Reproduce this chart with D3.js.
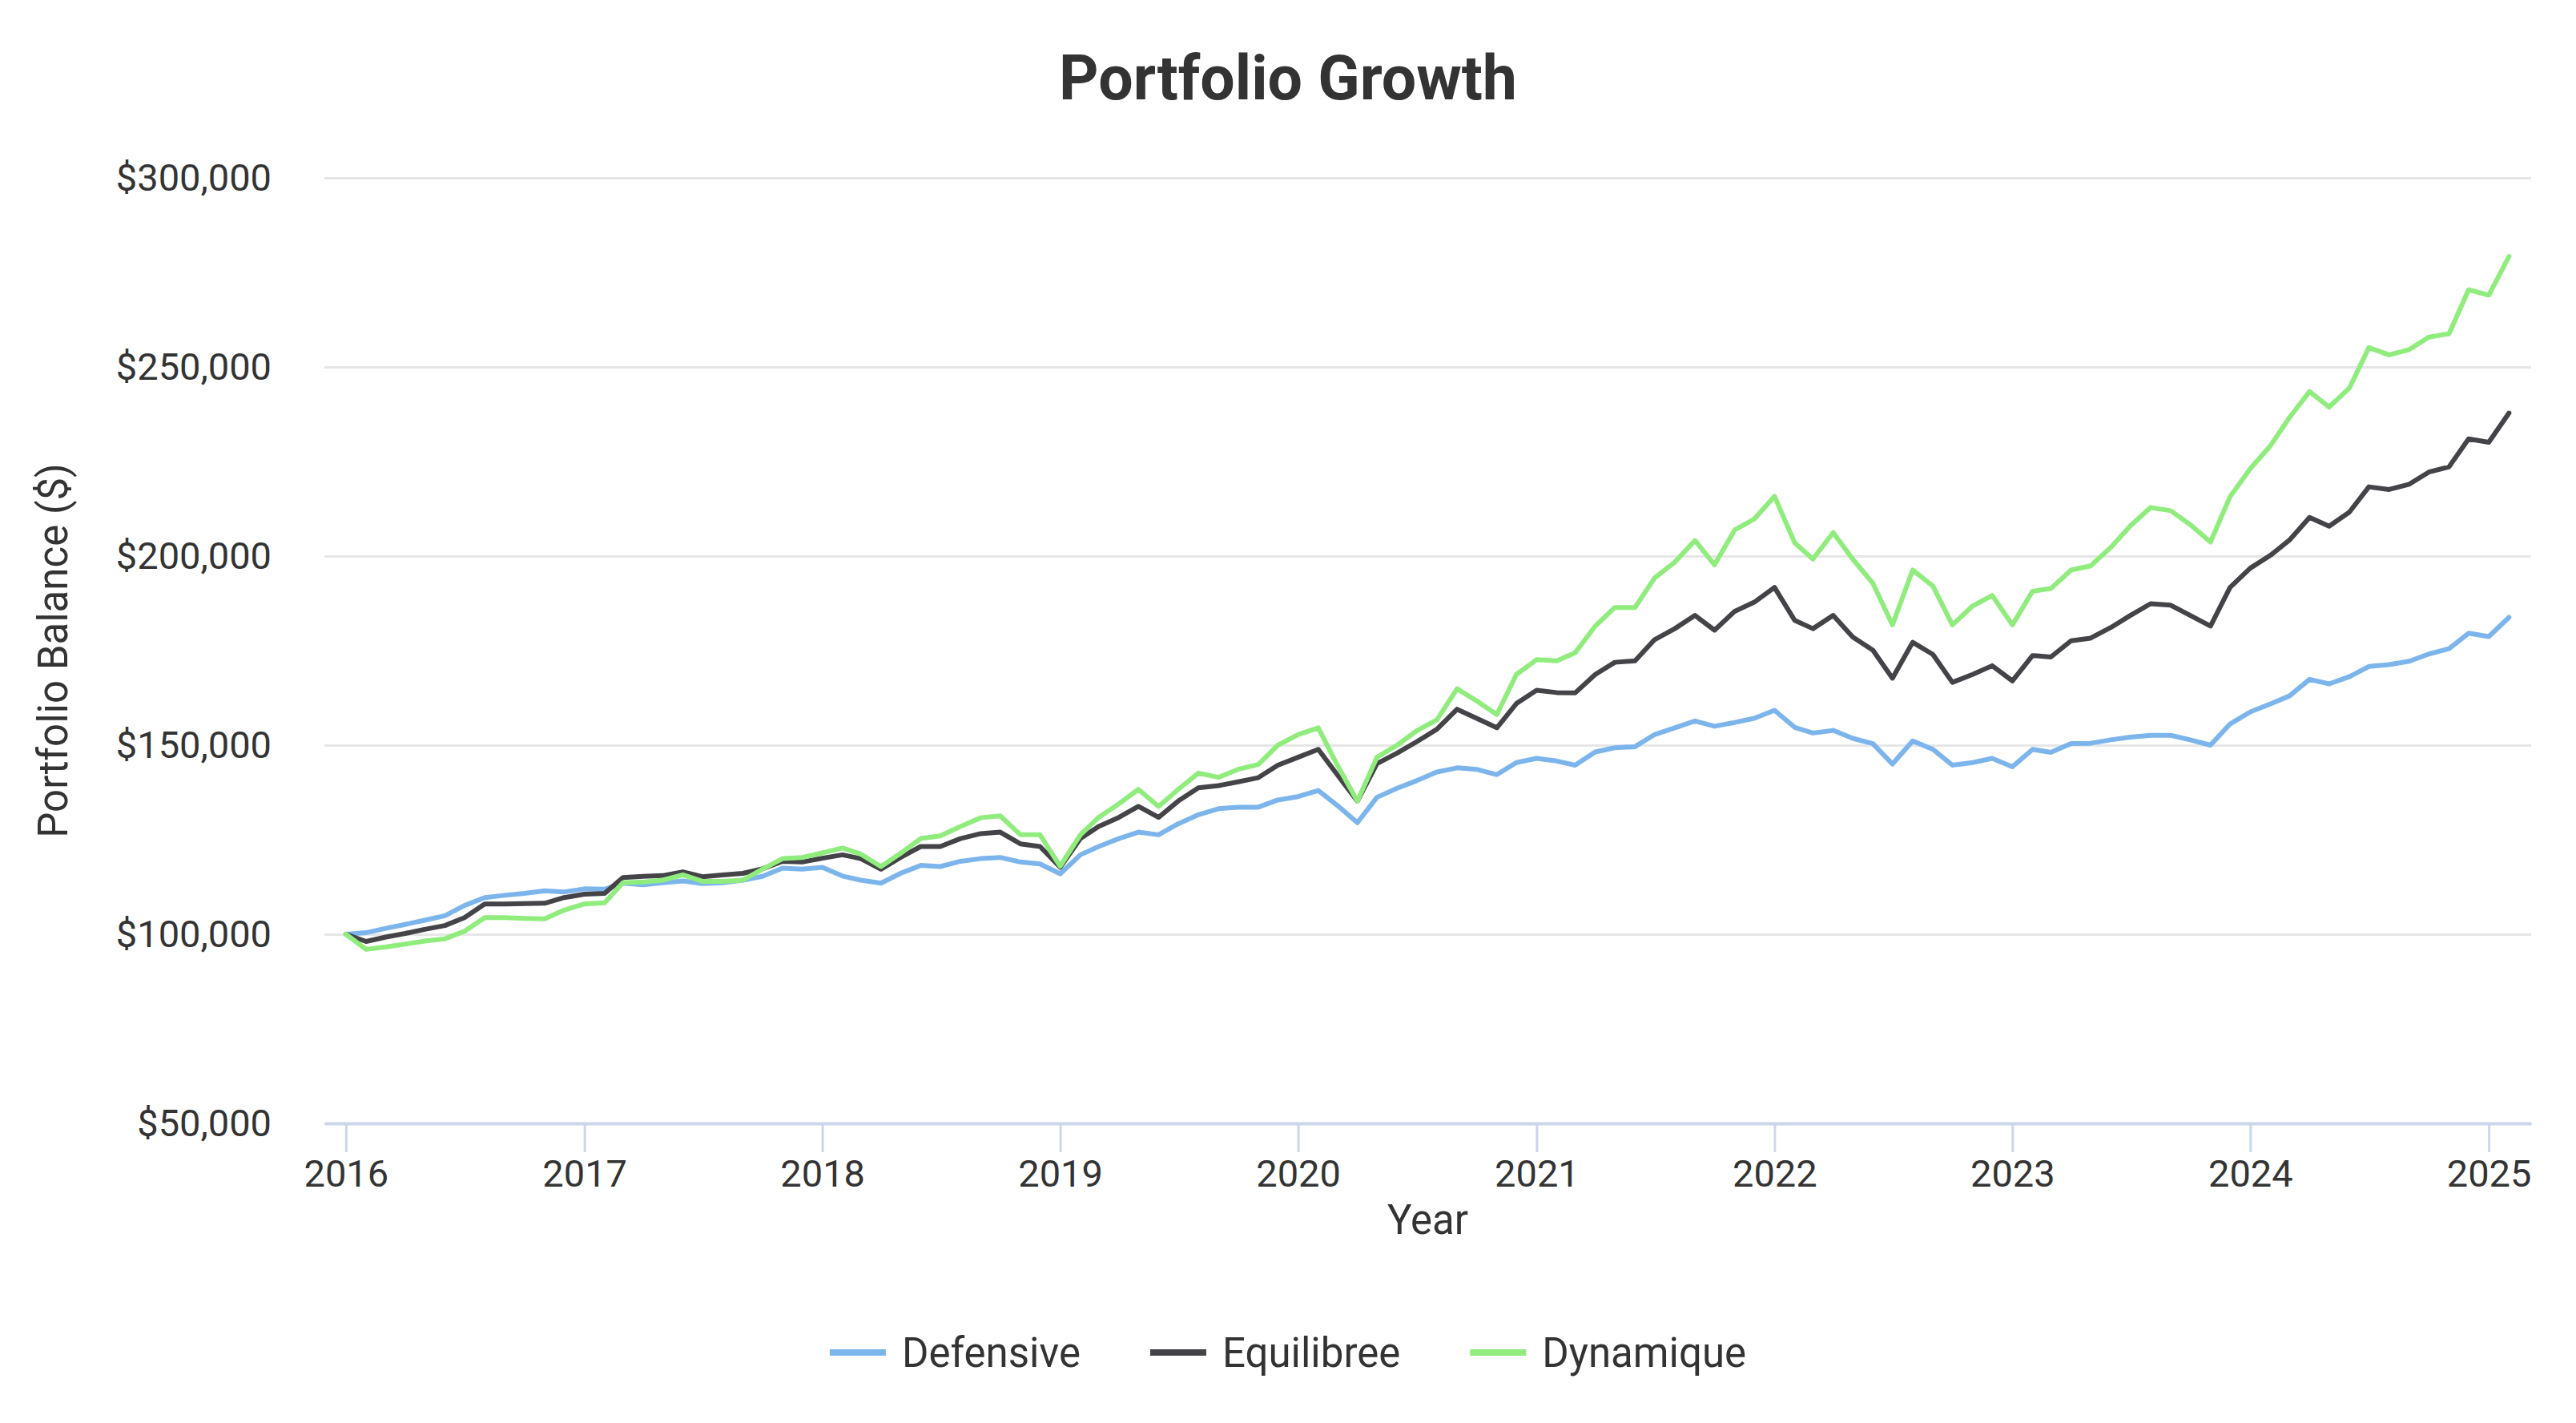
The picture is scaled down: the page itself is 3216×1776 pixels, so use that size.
<!DOCTYPE html>
<html>
<head>
<meta charset="utf-8">
<script src="https://cdn.jsdelivr.net/npm/d3@7"></script>
<style>
  body { margin: 0; background: #fff; }
  svg { display: block; font-family: Roboto, "Noto Sans", sans-serif; }
</style>
</head>
<body>
<svg id="chart"></svg>
<script>
// monthly balances, in thousands of $, starting January 2016
const defensive = [
  100.0, 100.4, 101.5, 102.6, 103.7, 104.9, 107.6, 109.7, 110.3, 110.8, 111.5, 111.2,
  112.0, 111.9, 113.5, 113.1, 113.6, 114.1, 113.4, 113.6, 114.3, 115.3, 117.5, 117.2,
  117.7, 115.4, 114.3, 113.5, 116.1, 118.2, 117.9, 119.3, 120.0, 120.3, 119.1, 118.6,
  116.0, 121.0, 123.2, 125.3, 127.0, 126.3, 129.2, 131.6, 133.2, 133.6, 133.6, 135.5,
  136.4, 138.0, 134.1, 129.5, 136.2, 138.6, 140.6, 142.9, 144.0, 143.6, 142.2, 145.4,
  146.5, 145.8, 144.7, 148.2, 149.3, 149.6, 152.8, 154.6, 156.4, 155.0, 156.0, 157.1,
  159.2, 154.7, 153.2, 153.9, 151.8, 150.4, 145.0, 151.1, 148.9, 144.7, 145.4, 146.5,
  144.3, 148.9, 148.1, 150.4, 150.5, 151.4, 152.1, 152.6, 152.6, 151.4, 150.0, 155.6,
  158.8, 160.9, 163.0, 167.4, 166.2, 168.1, 170.8, 171.3, 172.2, 174.1, 175.5, 179.6,
  178.7, 183.8
];
const equilibree = [
  100.0, 98.1, 99.2, 100.2, 101.3, 102.3, 104.4, 108.0, 108.0, 108.1, 108.2, 109.7,
  110.6, 110.8, 115.0, 115.3, 115.5, 116.5, 115.2, 115.7, 116.1, 117.3, 119.3, 119.1,
  120.1, 121.0, 120.0, 117.2, 120.3, 123.2, 123.2, 125.3, 126.6, 127.0, 123.9, 123.2,
  117.7, 125.3, 128.5, 130.9, 133.8, 130.9, 135.2, 138.7, 139.3, 140.3, 141.4, 144.7,
  146.8, 148.9, 142.2, 135.2, 145.1, 147.9, 150.9, 154.2, 159.5, 157.1, 154.6, 161.0,
  164.5, 163.9, 163.8, 168.7, 171.9, 172.3, 177.9, 180.8, 184.3, 180.4, 185.4, 187.8,
  191.7, 183.0, 180.8, 184.3, 178.6, 175.1, 167.7, 177.2, 174.0, 166.6, 168.7, 171.0,
  167.0, 173.7, 173.3, 177.6, 178.3, 181.1, 184.3, 187.4, 187.0, 184.3, 181.5, 191.7,
  196.8, 200.2, 204.2, 210.2, 207.9, 211.6, 218.3, 217.6, 219.0, 222.2, 223.6, 231.0,
  230.1, 237.8
];
const dynamique = [
  100.0, 96.0, 96.6, 97.4, 98.2, 98.8, 100.8, 104.4, 104.4, 104.2, 104.1, 106.4,
  108.0, 108.3, 113.6, 113.8, 114.3, 115.7, 114.0, 114.0, 114.3, 117.2, 120.0, 120.3,
  121.5, 122.8, 121.2, 117.9, 121.4, 125.3, 126.0, 128.5, 130.8, 131.3, 126.3, 126.3,
  118.0, 126.3, 130.9, 134.5, 138.3, 133.8, 138.3, 142.6, 141.5, 143.6, 144.9, 150.0,
  152.8, 154.6, 144.8, 135.2, 146.8, 150.0, 153.8, 156.7, 164.9, 161.7, 158.1, 168.7,
  172.6, 172.3, 174.4, 181.5, 186.4, 186.4, 194.2, 198.4, 204.1, 197.7, 206.9, 209.8,
  215.8, 203.5, 199.2, 206.2, 199.2, 192.8, 181.8, 196.3, 192.1, 181.8, 186.8, 189.6,
  181.8, 190.7, 191.4, 196.3, 197.4, 202.3, 208.0, 212.8, 212.0, 208.3, 203.7, 215.7,
  223.1, 229.2, 236.6, 243.5, 239.4, 244.4, 255.1, 253.2, 254.6, 257.9, 258.8, 270.4,
  269.0, 279.2
];
const seriesNames = ["Defensive", "Equilibree", "Dynamique"];
const seriesColors = ["#7cb5ec", "#434348", "#90ed7d"];
const yTicks = [50000, 100000, 150000, 200000, 250000, 300000];
const yearTicks = [2016, 2017, 2018, 2019, 2020, 2021, 2022, 2023, 2024, 2025];

const W = 3216, H = 1776;
const margin = { top: 222, right: 56, bottom: 374, left: 405 };
const innerW = W - margin.left - margin.right;
const innerH = H - margin.top - margin.bottom;

const svg = d3.select("#chart").attr("width", W).attr("height", H);

const months = d3.range(defensive.length).map(i => new Date(2016, i, 1));
const series = [defensive, equilibree, dynamique].map((vals, k) => ({
  name: seriesNames[k],
  color: seriesColors[k],
  values: vals.map((v, i) => ({ date: months[i], value: v * 1000 }))
}));

const x = d3.scaleTime()
  .domain([new Date(2015, 10, 29), new Date(2025, 2, 7)])
  .range([0, innerW]);
const y = d3.scaleLinear().domain([50000, 300000]).range([innerH, 0]);

const g = svg.append("g").attr("transform", `translate(${margin.left},${margin.top})`);

// title
svg.append("text")
  .attr("x", W / 2).attr("y", 124)
  .attr("text-anchor", "middle")
  .attr("font-size", 77).attr("font-weight", "bold")
  .attr("fill", "#333")
  .text("Portfolio Growth");

// y gridlines + labels
const yAxis = g.append("g")
  .call(d3.axisLeft(y).tickValues(yTicks).tickSize(-innerW).tickPadding(66)
    .tickFormat(d => "$" + d3.format(",")(d)));
yAxis.select(".domain").remove();
yAxis.selectAll(".tick line").attr("stroke", "#e6e6e6").attr("stroke-width", 3);
yAxis.selectAll(".tick text")
  .attr("font-size", 47).attr("fill", "#333").attr("font-family", "Roboto");

// x axis
const xAxis = g.append("g")
  .attr("transform", `translate(0,${innerH})`)
  .call(d3.axisBottom(x)
    .tickValues(yearTicks.map(yr => new Date(yr, 0, 1)))
    .tickSizeInner(36).tickSizeOuter(0).tickPadding(10)
    .tickFormat(d3.timeFormat("%Y")));
xAxis.select(".domain").attr("stroke", "#ccd6eb").attr("stroke-width", 4);
xAxis.selectAll(".tick line").attr("stroke", "#ccd6eb").attr("stroke-width", 3);
xAxis.selectAll(".tick text")
  .attr("font-size", 47).attr("fill", "#333").attr("font-family", "Roboto");

// axis titles
svg.append("text")
  .attr("x", margin.left + innerW / 2).attr("y", 1540)
  .attr("text-anchor", "middle")
  .attr("font-size", 51).attr("fill", "#333")
  .text("Year");

svg.append("text")
  .attr("transform", `translate(84,${margin.top + innerH / 2}) rotate(-90)`)
  .attr("text-anchor", "middle")
  .attr("font-size", 51).attr("fill", "#333")
  .text("Portfolio Balance ($)");

// lines
const line = d3.line()
  .x(d => x(d.date))
  .y(d => y(d.value));

g.selectAll(".series")
  .data(series)
  .enter()
  .append("path")
  .attr("class", "series")
  .attr("d", d => line(d.values))
  .attr("fill", "none")
  .attr("stroke", d => d.color)
  .attr("stroke-width", 6)
  .attr("stroke-linejoin", "round")
  .attr("stroke-linecap", "round");

// legend
const legend = svg.append("g");
const symW = 70, symGap = 20, itemGap = 87;
let lx = 0;
series.forEach(s => {
  const item = legend.append("g").attr("transform", `translate(${lx},0)`);
  item.append("line")
    .attr("x1", 0).attr("x2", symW).attr("y1", 0).attr("y2", 0)
    .attr("stroke", s.color).attr("stroke-width", 8);
  const t = item.append("text")
    .attr("x", symW + symGap).attr("y", 18)
    .attr("font-size", 51).attr("fill", "#333")
    .text(s.name);
  lx += symW + symGap + t.node().getComputedTextLength() + itemGap;
});
const legendW = lx - itemGap;
legend.attr("transform", `translate(${W / 2 - legendW / 2},1688)`);
</script>
</body>
</html>
